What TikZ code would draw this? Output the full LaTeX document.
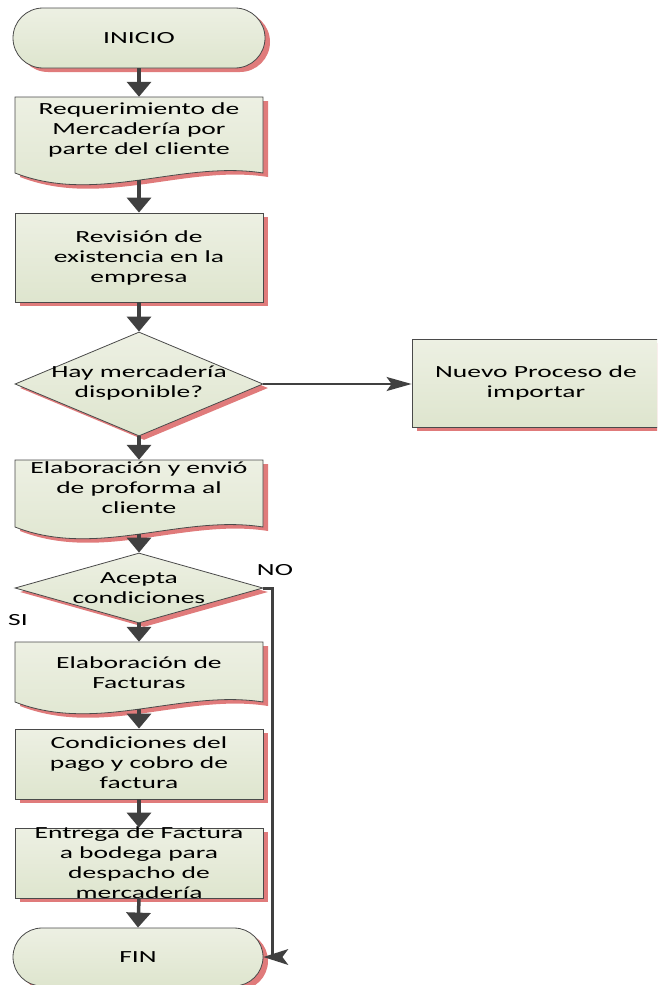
\documentclass[tikz,border=0pt]{standalone}
\usepackage{fontspec}
\setmainfont{Carlito}[FakeStretch=1.62]
\usetikzlibrary{arrows.meta,shapes.geometric,shapes.misc,shadows}
\definecolor{filltop}{HTML}{EDF0E3}
\definecolor{fillbot}{HTML}{DEE5CE}
\definecolor{edge}{HTML}{4A4A4A}
\definecolor{shade}{HTML}{E07B7B}
\definecolor{flowgray}{HTML}{404040}

\tikzset{
  shapefill/.style={draw=edge, line width=0.8pt, top color=filltop, bottom color=fillbot,
    general shadow={fill=shade, shadow xshift=5pt, shadow yshift=-4pt}},
  procbox/.style={shapefill, rectangle, minimum width=248pt, inner sep=0pt},
  termbox/.style={shapefill, rounded rectangle, minimum width=252pt, minimum height=60pt, inner sep=0pt},
  decision/.style={shapefill, diamond, minimum width=248pt, inner sep=0pt},
  frame/.style={rectangle, draw=none, minimum width=248pt, inner sep=0pt},
  txt/.style={align=center, font=\fontsize{17}{20}\selectfont, inner sep=0pt, text=black},
  flow/.style={draw=flowgray, line width=3.5pt, -{Triangle[width=24pt,length=15pt]}},
  sideflow/.style={draw=flowgray, line width=2pt, -{Stealth[length=25pt,width=14pt,inset=5pt]}},
  noline/.style={draw=flowgray, line width=3pt},
  nohead/.style={fill=flowgray, draw=none},
}

% document symbol with a wavy lower edge: left x, top y, baseline y
\newcommand\docshape[3]{%
  \path[shapefill] (#1,#2) -- ({#1+248},#2) -- ({#1+248},#3)
    .. controls ({#1+166},{#3-13}) and ({#1+82},{#3+32}) .. (#1,#3) -- cycle;}

\begin{document}
\begin{tikzpicture}[x=1pt,y=-1pt]
\useasboundingbox (0,0) rectangle (657,985);
\clip (0,0) rectangle (657,985);

% start
\node[termbox] (ini) at (139,38) {};
\node[txt] (init) at (139,38) {INICIO};

% customer request
\docshape{15}{97}{173}
\node[frame, minimum height=83pt] (d1) at (139,138.5) {};
\node[txt] (d1t) at (139,130) {Requerimiento de\\Mercadería por\\parte del cliente};

% stock check
\node[procbox, minimum height=89pt] (b2) at (139,257.5) {};
\node[txt] (b2t) at (139,258) {Revisión de\\existencia en la\\empresa};

% first decision
\node[decision, minimum height=104pt] (q1) at (139,384) {};
\node[txt] (q1t) at (139,383) {Hay mercadería\\disponible?};

% import branch
\node[procbox, minimum height=88pt] (np) at (536,383) {};
\node[txt] (npt) at (536,383) {Nuevo Proceso de\\importar};

% proforma
\docshape{15}{460}{527}
\node[frame, minimum height=74pt] (d3) at (139,497) {};
\node[txt] (d3t) at (139,488) {Elaboración y envió\\de proforma al\\cliente};

% second decision
\node[decision, minimum height=70pt] (q2) at (139,588) {};
\node[txt] (q2t) at (139,588) {Acepta\\condiciones};

% invoices
\docshape{15}{642}{702}
\node[frame, minimum height=67pt] (d4) at (139,675.5) {};
\node[txt] (d4t) at (139,673) {Elaboración de\\Facturas};

% payment
\node[procbox, minimum height=70pt] (b5) at (139,764) {};
\node[txt] (b5t) at (139,763) {Condiciones del\\pago y cobro de\\factura};

% dispatch
\node[procbox, minimum height=70pt] (b6) at (139,863) {};
\node[txt] (b6t) at (139,863) {Entrega de Factura\\a bodega para\\despacho de\\mercadería};

% end
\node[termbox, minimum width=250pt, minimum height=58pt] (fin) at (138,957) {};
\node[txt] (fint) at (138,957) {FIN};

% branch labels
\node[txt] (nolab) at (275,570) {NO};
\node[txt] (silab) at (18,620) {SI};

% main flow
\draw[flow] (ini.south) -- (d1.north);
\draw[flow] (d1.south) -- (b2.north);
\draw[flow] (b2.south) -- (q1.north);
\draw[flow] (q1.south) -- (d3.north);
\draw[flow] (d3.south) -- (q2.north);
\draw[flow] (q2.south) -- (d4.north);
\draw[flow] (d4.south) -- (b5.north);
\draw[flow] (b5.south) -- (b6.north);
\draw[flow] (b6.south) -- (fin.north);

% import branch connector
\draw[sideflow] (q1.east) -- (q1.east -| np.west);

% rejection path to the end, with its arrowhead at the end symbol
\coordinate (nocorner) at (272,957);
\draw[noline] (q2.east) -- (q2.east -| nocorner) -- (nocorner);
\path[nohead] (fin.east) -- ++(25,-8) -- ++(-6,8) -- ++(6,8) -- cycle;
\end{tikzpicture}
\end{document}
